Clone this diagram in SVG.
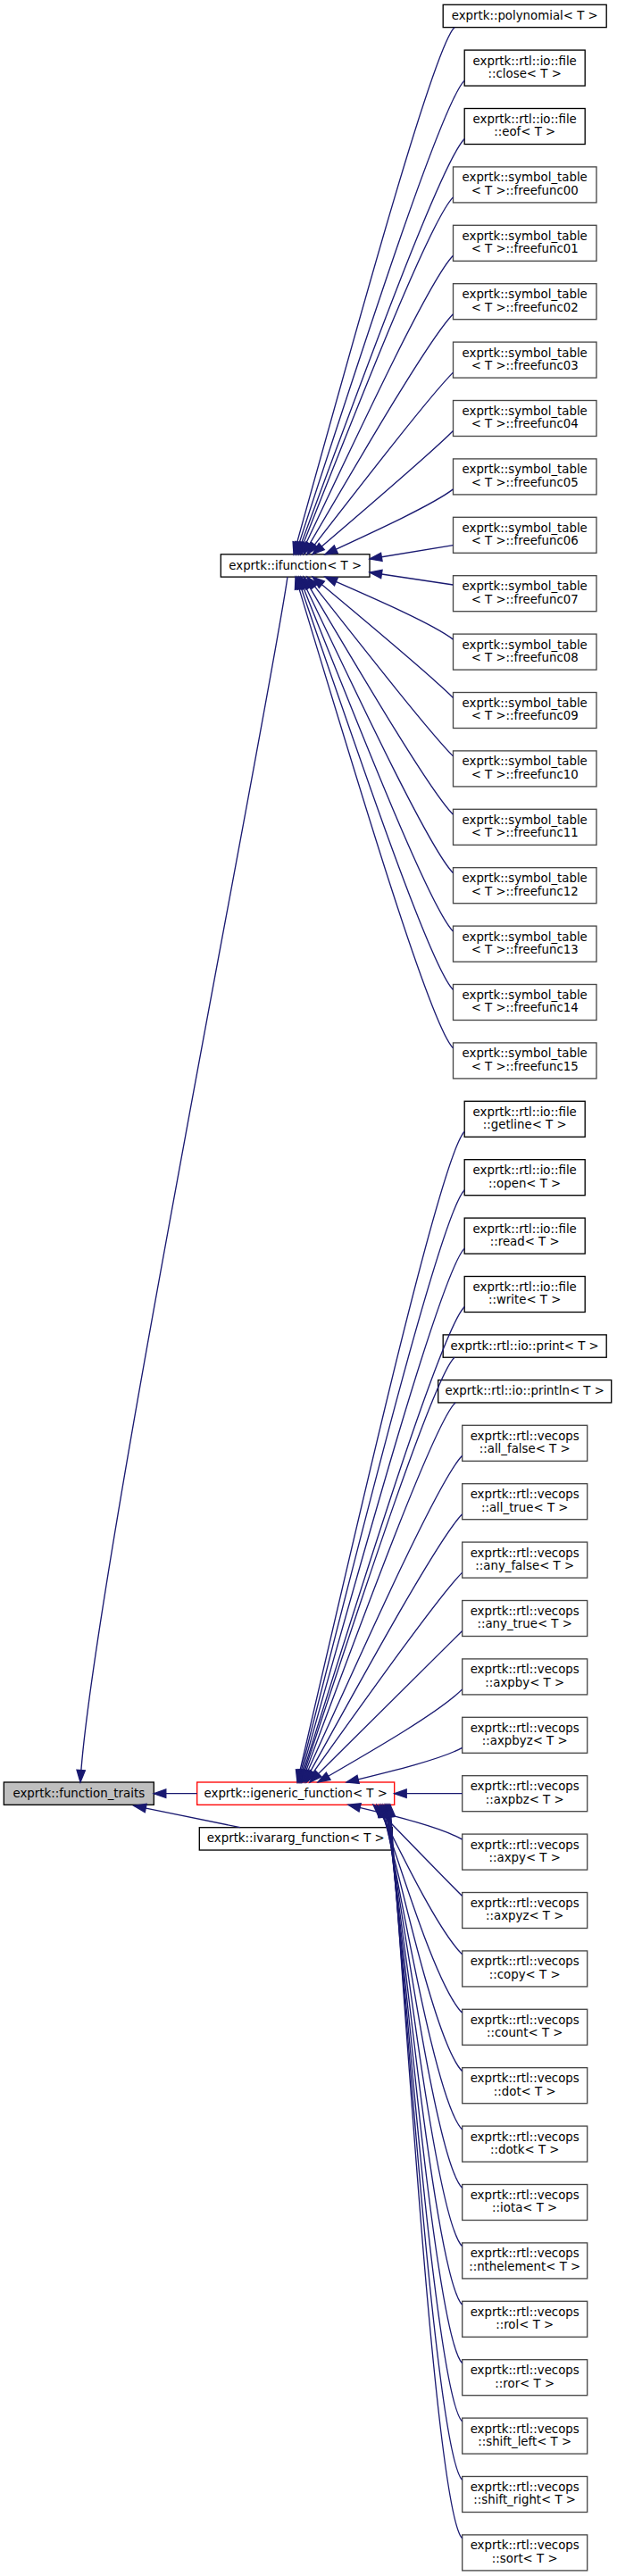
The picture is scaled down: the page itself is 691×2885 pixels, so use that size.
<svg xmlns="http://www.w3.org/2000/svg" width="691" height="2885" viewBox="0 0 691 2885">
<style>
rect{fill:#fff;stroke:#000;stroke-width:1.33}
.g rect{stroke:#474747}
.r rect{stroke:#f00}
.b rect{fill:#bfbfbf}
text{font-family:"DejaVu Sans","Liberation Sans",sans-serif;font-size:13.33px;text-anchor:middle;fill:#000}
.e path{fill:none;stroke:#191970;stroke-width:1.33;marker-end:url(#ah)}
</style>
<defs>
<marker id="ah" markerUnits="userSpaceOnUse" markerWidth="16" markerHeight="12" viewBox="0 0 16 12" refX="14.5" refY="6" orient="auto" overflow="visible">
<path d="M1,1.3 L14.5,6 L1,10.7 z" fill="#191970" stroke="#191970" stroke-width="1.33"/>
</marker>
</defs>
<rect x="0" y="0" width="691" height="2885" style="fill:#fff;stroke:none"/>
<g id="nodes">
<g id="function_traits" class="b"><rect x="4.3" y="1996" width="168" height="25.33"/><text x="88.3" y="2012.7">exprtk::function_traits</text></g>
<g id="ifunction"><rect x="247.3" y="620.8" width="166.7" height="25.33"/><text x="330.7" y="637.5">exprtk::ifunction&lt; T &gt;</text></g>
<g id="igeneric_function" class="r"><rect x="220.7" y="1996" width="221" height="25.33"/><text x="331.2" y="2012.7">exprtk::igeneric_function&lt; T &gt;</text></g>
<g id="ivararg_function"><rect x="223.3" y="2046.7" width="216" height="25.33"/><text x="331.3" y="2063.4">exprtk::ivararg_function&lt; T &gt;</text></g>
<g id="polynomial"><rect x="496.2" y="5.3" width="183" height="25.33"/><text x="587.7" y="22">exprtk::polynomial&lt; T &gt;</text></g>
<g id="close"><rect x="520.2" y="56.1" width="135" height="40"/><text x="587.7" y="72.6">exprtk::rtl::io::file</text><text x="587.7" y="86.9">::close&lt; T &gt;</text></g>
<g id="eof"><rect x="520.2" y="121.5" width="135" height="40"/><text x="587.7" y="138">exprtk::rtl::io::file</text><text x="587.7" y="152.3">::eof&lt; T &gt;</text></g>
<g id="freefunc00" class="g"><rect x="507.5" y="186.9" width="160.5" height="40"/><text x="587.7" y="203.4">exprtk::symbol_table</text><text x="587.7" y="217.7">&lt; T &gt;::freefunc00</text></g>
<g id="freefunc01" class="g"><rect x="507.5" y="252.3" width="160.5" height="40"/><text x="587.7" y="268.8">exprtk::symbol_table</text><text x="587.7" y="283.1">&lt; T &gt;::freefunc01</text></g>
<g id="freefunc02" class="g"><rect x="507.5" y="317.7" width="160.5" height="40"/><text x="587.7" y="334.2">exprtk::symbol_table</text><text x="587.7" y="348.5">&lt; T &gt;::freefunc02</text></g>
<g id="freefunc03" class="g"><rect x="507.5" y="383.1" width="160.5" height="40"/><text x="587.7" y="399.6">exprtk::symbol_table</text><text x="587.7" y="413.9">&lt; T &gt;::freefunc03</text></g>
<g id="freefunc04" class="g"><rect x="507.5" y="448.5" width="160.5" height="40"/><text x="587.7" y="465">exprtk::symbol_table</text><text x="587.7" y="479.3">&lt; T &gt;::freefunc04</text></g>
<g id="freefunc05" class="g"><rect x="507.5" y="513.9" width="160.5" height="40"/><text x="587.7" y="530.4">exprtk::symbol_table</text><text x="587.7" y="544.7">&lt; T &gt;::freefunc05</text></g>
<g id="freefunc06" class="g"><rect x="507.5" y="579.3" width="160.5" height="40"/><text x="587.7" y="595.8">exprtk::symbol_table</text><text x="587.7" y="610.1">&lt; T &gt;::freefunc06</text></g>
<g id="freefunc07" class="g"><rect x="507.5" y="644.7" width="160.5" height="40"/><text x="587.7" y="661.2">exprtk::symbol_table</text><text x="587.7" y="675.5">&lt; T &gt;::freefunc07</text></g>
<g id="freefunc08" class="g"><rect x="507.5" y="710.1" width="160.5" height="40"/><text x="587.7" y="726.6">exprtk::symbol_table</text><text x="587.7" y="740.9">&lt; T &gt;::freefunc08</text></g>
<g id="freefunc09" class="g"><rect x="507.5" y="775.5" width="160.5" height="40"/><text x="587.7" y="792">exprtk::symbol_table</text><text x="587.7" y="806.3">&lt; T &gt;::freefunc09</text></g>
<g id="freefunc10" class="g"><rect x="507.5" y="840.9" width="160.5" height="40"/><text x="587.7" y="857.4">exprtk::symbol_table</text><text x="587.7" y="871.7">&lt; T &gt;::freefunc10</text></g>
<g id="freefunc11" class="g"><rect x="507.5" y="906.3" width="160.5" height="40"/><text x="587.7" y="922.8">exprtk::symbol_table</text><text x="587.7" y="937.1">&lt; T &gt;::freefunc11</text></g>
<g id="freefunc12" class="g"><rect x="507.5" y="971.7" width="160.5" height="40"/><text x="587.7" y="988.2">exprtk::symbol_table</text><text x="587.7" y="1002.5">&lt; T &gt;::freefunc12</text></g>
<g id="freefunc13" class="g"><rect x="507.5" y="1037.1" width="160.5" height="40"/><text x="587.7" y="1053.6">exprtk::symbol_table</text><text x="587.7" y="1067.9">&lt; T &gt;::freefunc13</text></g>
<g id="freefunc14" class="g"><rect x="507.5" y="1102.5" width="160.5" height="40"/><text x="587.7" y="1119">exprtk::symbol_table</text><text x="587.7" y="1133.3">&lt; T &gt;::freefunc14</text></g>
<g id="freefunc15" class="g"><rect x="507.5" y="1167.9" width="160.5" height="40"/><text x="587.7" y="1184.4">exprtk::symbol_table</text><text x="587.7" y="1198.7">&lt; T &gt;::freefunc15</text></g>
<g id="getline"><rect x="520.2" y="1233.3" width="135" height="40"/><text x="587.7" y="1249.8">exprtk::rtl::io::file</text><text x="587.7" y="1264.1">::getline&lt; T &gt;</text></g>
<g id="open"><rect x="520.2" y="1298.7" width="135" height="40"/><text x="587.7" y="1315.2">exprtk::rtl::io::file</text><text x="587.7" y="1329.5">::open&lt; T &gt;</text></g>
<g id="read"><rect x="520.2" y="1364.1" width="135" height="40"/><text x="587.7" y="1380.6">exprtk::rtl::io::file</text><text x="587.7" y="1394.9">::read&lt; T &gt;</text></g>
<g id="write"><rect x="520.2" y="1429.5" width="135" height="40"/><text x="587.7" y="1446">exprtk::rtl::io::file</text><text x="587.7" y="1460.3">::write&lt; T &gt;</text></g>
<g id="print"><rect x="496.2" y="1494.9" width="183" height="25.33"/><text x="587.7" y="1511.6">exprtk::rtl::io::print&lt; T &gt;</text></g>
<g id="println"><rect x="490.7" y="1545.6" width="194" height="25.33"/><text x="587.7" y="1562.3">exprtk::rtl::io::println&lt; T &gt;</text></g>
<g id="all_false" class="g"><rect x="517.7" y="1596.3" width="140" height="40"/><text x="587.7" y="1612.8">exprtk::rtl::vecops</text><text x="587.7" y="1627.1">::all_false&lt; T &gt;</text></g>
<g id="all_true" class="g"><rect x="517.7" y="1661.7" width="140" height="40"/><text x="587.7" y="1678.2">exprtk::rtl::vecops</text><text x="587.7" y="1692.5">::all_true&lt; T &gt;</text></g>
<g id="any_false" class="g"><rect x="517.7" y="1727.1" width="140" height="40"/><text x="587.7" y="1743.6">exprtk::rtl::vecops</text><text x="587.7" y="1757.9">::any_false&lt; T &gt;</text></g>
<g id="any_true" class="g"><rect x="517.7" y="1792.5" width="140" height="40"/><text x="587.7" y="1809">exprtk::rtl::vecops</text><text x="587.7" y="1823.3">::any_true&lt; T &gt;</text></g>
<g id="axpby" class="g"><rect x="517.7" y="1857.9" width="140" height="40"/><text x="587.7" y="1874.4">exprtk::rtl::vecops</text><text x="587.7" y="1888.7">::axpby&lt; T &gt;</text></g>
<g id="axpbyz" class="g"><rect x="517.7" y="1923.3" width="140" height="40"/><text x="587.7" y="1939.8">exprtk::rtl::vecops</text><text x="587.7" y="1954.1">::axpbyz&lt; T &gt;</text></g>
<g id="axpbz" class="g"><rect x="517.7" y="1988.7" width="140" height="40"/><text x="587.7" y="2005.2">exprtk::rtl::vecops</text><text x="587.7" y="2019.5">::axpbz&lt; T &gt;</text></g>
<g id="axpy" class="g"><rect x="517.7" y="2054.1" width="140" height="40"/><text x="587.7" y="2070.6">exprtk::rtl::vecops</text><text x="587.7" y="2084.9">::axpy&lt; T &gt;</text></g>
<g id="axpyz" class="g"><rect x="517.7" y="2119.5" width="140" height="40"/><text x="587.7" y="2136">exprtk::rtl::vecops</text><text x="587.7" y="2150.3">::axpyz&lt; T &gt;</text></g>
<g id="copy" class="g"><rect x="517.7" y="2184.9" width="140" height="40"/><text x="587.7" y="2201.4">exprtk::rtl::vecops</text><text x="587.7" y="2215.7">::copy&lt; T &gt;</text></g>
<g id="count" class="g"><rect x="517.7" y="2250.3" width="140" height="40"/><text x="587.7" y="2266.8">exprtk::rtl::vecops</text><text x="587.7" y="2281.1">::count&lt; T &gt;</text></g>
<g id="dot" class="g"><rect x="517.7" y="2315.7" width="140" height="40"/><text x="587.7" y="2332.2">exprtk::rtl::vecops</text><text x="587.7" y="2346.5">::dot&lt; T &gt;</text></g>
<g id="dotk" class="g"><rect x="517.7" y="2381.1" width="140" height="40"/><text x="587.7" y="2397.6">exprtk::rtl::vecops</text><text x="587.7" y="2411.9">::dotk&lt; T &gt;</text></g>
<g id="iota" class="g"><rect x="517.7" y="2446.5" width="140" height="40"/><text x="587.7" y="2463">exprtk::rtl::vecops</text><text x="587.7" y="2477.3">::iota&lt; T &gt;</text></g>
<g id="nthelement" class="g"><rect x="517.7" y="2511.9" width="140" height="40"/><text x="587.7" y="2528.4">exprtk::rtl::vecops</text><text x="587.7" y="2542.7">::nthelement&lt; T &gt;</text></g>
<g id="rol" class="g"><rect x="517.7" y="2577.3" width="140" height="40"/><text x="587.7" y="2593.8">exprtk::rtl::vecops</text><text x="587.7" y="2608.1">::rol&lt; T &gt;</text></g>
<g id="ror" class="g"><rect x="517.7" y="2642.7" width="140" height="40"/><text x="587.7" y="2659.2">exprtk::rtl::vecops</text><text x="587.7" y="2673.5">::ror&lt; T &gt;</text></g>
<g id="shift_left" class="g"><rect x="517.7" y="2708.1" width="140" height="40"/><text x="587.7" y="2724.6">exprtk::rtl::vecops</text><text x="587.7" y="2738.9">::shift_left&lt; T &gt;</text></g>
<g id="shift_right" class="g"><rect x="517.7" y="2773.5" width="140" height="40"/><text x="587.7" y="2790">exprtk::rtl::vecops</text><text x="587.7" y="2804.3">::shift_right&lt; T &gt;</text></g>
<g id="sort" class="g"><rect x="517.7" y="2838.9" width="140" height="40"/><text x="587.7" y="2855.4">exprtk::rtl::vecops</text><text x="587.7" y="2869.7">::sort&lt; T &gt;</text></g>
</g>
<g id="edges" class="e">
<path d="M322,646.1 C300,800 100,1800 90,1996"/>
<path d="M220.7,2008.7 L172.3,2008.7"/>
<path d="M269,2046.7 L150,2022.3"/>
<path d="M509,30.7 C487,50.7 408,335.8 329,620.8"/>
<path d="M520.2,90.1 C495.2,115.1 413.1,368 331,620.8"/>
<path d="M520.2,155.5 C495.2,180.5 414.1,400.7 333,620.8"/>
<path d="M507.5,220.9 C482.5,245.9 408.8,433.4 335,620.8"/>
<path d="M507.5,286.3 C482.5,311.3 409.8,466.1 337,620.8"/>
<path d="M507.5,351.7 C482.5,376.7 411.3,498.8 340,620.8"/>
<path d="M507.5,417.1 C482.5,442.1 413.3,531.5 344,620.8"/>
<path d="M507.5,482.5 C482.5,507.5 416.3,564.2 350,620.8"/>
<path d="M507.5,547.9 C485,565 424.5,592.9 364,620.8"/>
<path d="M507.5,610.7 L414,626"/>
<path d="M507.5,655 L414,641"/>
<path d="M507.5,716.1 C485,699 424.5,672.6 364,646.1"/>
<path d="M507.5,781.5 C482.5,756.5 416.3,701.3 350,646.1"/>
<path d="M507.5,846.9 C482.5,821.9 413.3,734 344,646.1"/>
<path d="M507.5,912.3 C482.5,887.3 411.3,766.7 340,646.1"/>
<path d="M507.5,977.7 C482.5,952.7 409.8,799.4 337,646.1"/>
<path d="M507.5,1043.1 C482.5,1018.1 408.8,832.1 335,646.1"/>
<path d="M507.5,1108.5 C482.5,1083.5 407.8,864.8 333,646.1"/>
<path d="M507.5,1173.9 C482.5,1148.9 406.8,897.5 331,646.1"/>
<path d="M520.2,1267.3 C495.2,1292.3 414.1,1644.2 333,1996"/>
<path d="M520.2,1332.7 C495.2,1357.7 414.6,1676.9 334,1996"/>
<path d="M520.2,1398.1 C495.2,1423.1 415.1,1709.6 335,1996"/>
<path d="M520.2,1463.5 C495.2,1488.5 415.6,1742.3 336,1996"/>
<path d="M509,1520.2 C487,1540.2 412,1768.1 337,1996"/>
<path d="M510,1570.9 C488,1590.9 413,1793.5 338,1996"/>
<path d="M517.7,1630.3 C492.7,1655.3 415.9,1825.7 339,1996"/>
<path d="M517.7,1695.7 C492.7,1720.7 416.9,1858.4 341,1996"/>
<path d="M517.7,1761.1 C492.7,1786.1 417.9,1891.1 343,1996"/>
<path d="M517.7,1826.5 C492.7,1851.5 419.9,1923.8 347,1996"/>
<path d="M517.7,1891.9 C492.7,1916.9 424.4,1956.5 356,1996"/>
<path d="M517.7,1957.3 C495,1970 441.5,1983 388,1996"/>
<path d="M517.7,2008.7 L441.7,2008.7"/>
<path d="M517.7,2060.1 C495,2047 445,2034.2 390,2021.3"/>
<path d="M517.7,2123.5 C492.7,2098.5 455.4,2059.9 418,2021.3"/>
<path d="M517.7,2188.9 C492.7,2163.9 457.4,2092.6 422,2021.3"/>
<path d="M517.7,2254.3 C492.7,2229.3 458.9,2125.3 425,2021.3"/>
<path d="M517.7,2319.7 C492.7,2294.7 459.9,2158 427,2021.3"/>
<path d="M517.7,2385.1 C492.7,2360.1 460.9,2190.7 429,2021.3"/>
<path d="M517.7,2450.5 C492.7,2425.5 461.9,2223.4 431,2021.3"/>
<path d="M517.7,2515.9 C492.7,2490.9 462.4,2256.1 432,2021.3"/>
<path d="M517.7,2581.3 C492.7,2556.3 462.9,2288.8 433,2021.3"/>
<path d="M517.7,2646.7 C492.7,2621.7 463.4,2321.5 434,2021.3"/>
<path d="M517.7,2712.1 C492.7,2687.1 463.9,2354.2 435,2021.3"/>
<path d="M517.7,2777.5 C492.7,2752.5 464.4,2386.9 436,2021.3"/>
<path d="M517.7,2842.9 C492.7,2817.9 464.9,2419.6 437,2021.3"/>
</g>
</svg>
